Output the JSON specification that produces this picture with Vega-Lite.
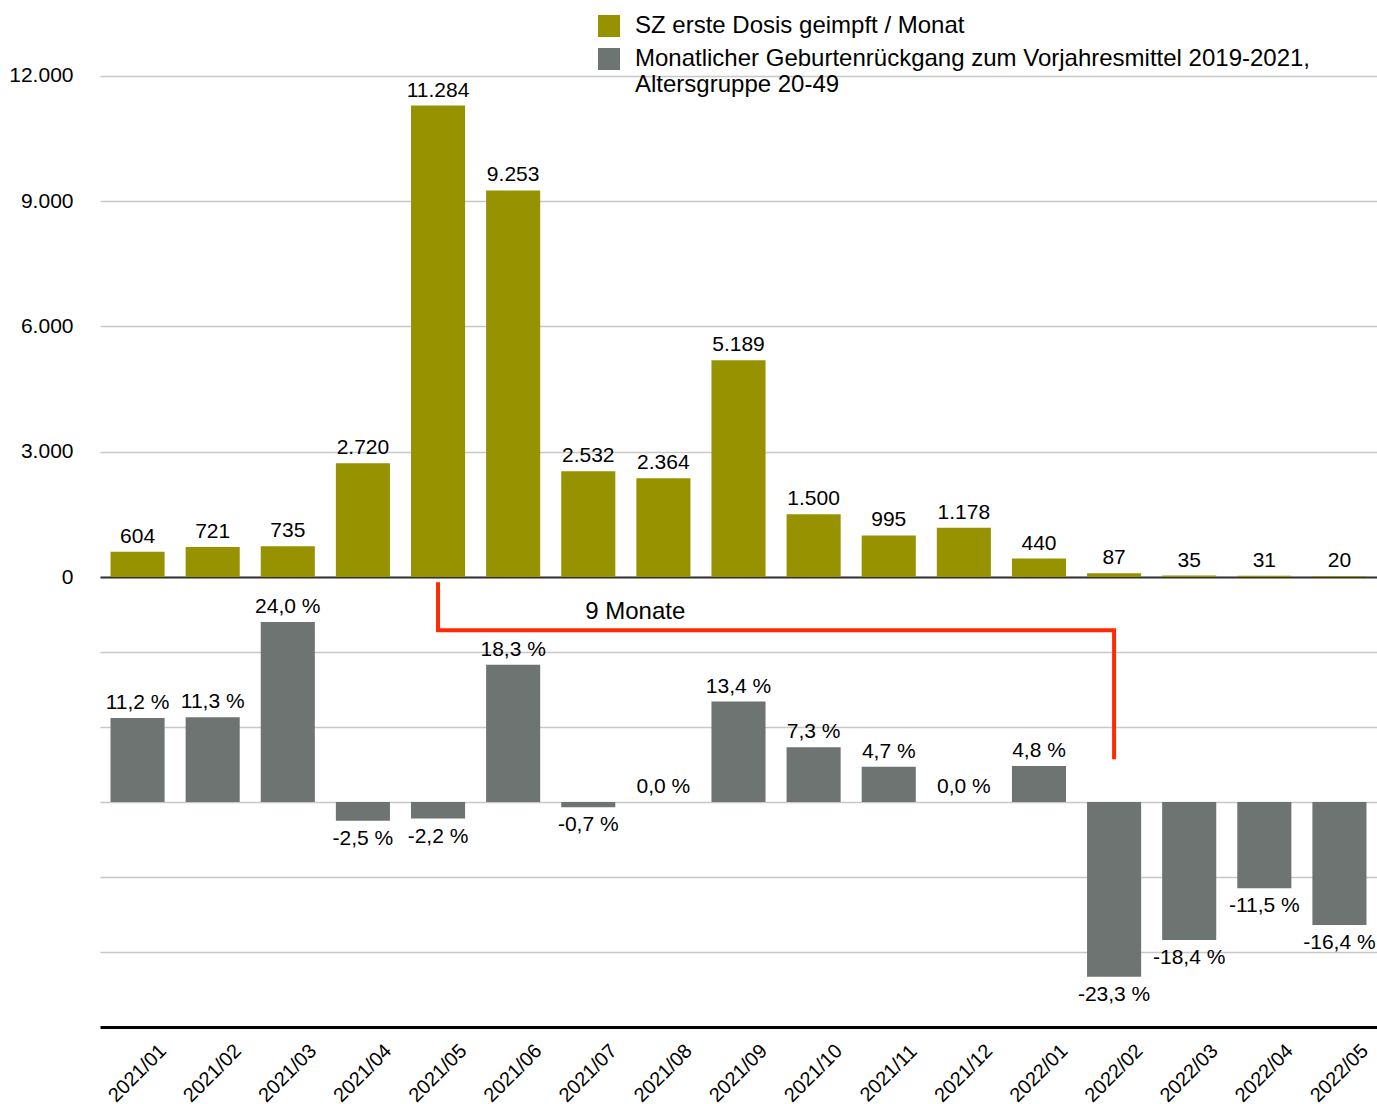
{
  "$schema": "https://vega.github.io/schema/vega-lite/v6.json",
  "padding": {"left": 0, "top": 13, "right": 0, "bottom": 0},
  "autosize": {"type": "pad"},
  "background": "white",
  "spacing": 0,
  "bounds": "flush",
  "config": {
    "locale": {"number": {"decimal": ",", "thousands": ".", "grouping": [3], "currency": ["", " €"], "percent": " %", "minus": "-"}},
    "view": {"stroke": null},
    "font": "Liberation Sans",
    "axis": {"labelFont": "Liberation Sans", "labelColor": "#000", "gridColor": "#c8c8c8", "gridWidth": 1.5},
    "legend": {"labelFont": "Liberation Sans"}
  },
  "datasets": {
    "monate": [
      {"monat": "2021/01", "dosis": 604, "rueckgang": 0.112},
      {"monat": "2021/02", "dosis": 721, "rueckgang": 0.113},
      {"monat": "2021/03", "dosis": 735, "rueckgang": 0.240},
      {"monat": "2021/04", "dosis": 2720, "rueckgang": -0.025},
      {"monat": "2021/05", "dosis": 11284, "rueckgang": -0.022},
      {"monat": "2021/06", "dosis": 9253, "rueckgang": 0.183},
      {"monat": "2021/07", "dosis": 2532, "rueckgang": -0.007},
      {"monat": "2021/08", "dosis": 2364, "rueckgang": 0.0},
      {"monat": "2021/09", "dosis": 5189, "rueckgang": 0.134},
      {"monat": "2021/10", "dosis": 1500, "rueckgang": 0.073},
      {"monat": "2021/11", "dosis": 995, "rueckgang": 0.047},
      {"monat": "2021/12", "dosis": 1178, "rueckgang": 0.0},
      {"monat": "2022/01", "dosis": 440, "rueckgang": 0.048},
      {"monat": "2022/02", "dosis": 87, "rueckgang": -0.233},
      {"monat": "2022/03", "dosis": 35, "rueckgang": -0.184},
      {"monat": "2022/04", "dosis": 31, "rueckgang": -0.115},
      {"monat": "2022/05", "dosis": 20, "rueckgang": -0.164}
    ],
    "linie": [
      {"monat": "2021/05", "wert": 0.293, "o": 1},
      {"monat": "2021/05", "wert": 0.229, "o": 2},
      {"monat": "2022/02", "wert": 0.229, "o": 3},
      {"monat": "2022/02", "wert": 0.057, "o": 4}
    ],
    "notiz": [
      {"monat": "2021/07", "wert": 0.254, "text": "9 Monate"}
    ]
  },
  "resolve": {"scale": {"color": "shared"}, "legend": {"color": "shared"}},
  "vconcat": [
    {
      "width": 1277,
      "height": 564,
      "data": {"name": "monate"},
      "encoding": {
        "x": {
          "field": "monat", "type": "nominal", "sort": null,
          "scale": {"domain": ["2021/01","2021/02","2021/03","2021/04","2021/05","2021/06","2021/07","2021/08","2021/09","2021/10","2021/11","2021/12","2022/01","2022/02","2022/03","2022/04","2022/05"], "paddingInner": 0.28, "paddingOuter": 0.14},
          "axis": {"title": null, "labels": false, "ticks": false, "grid": false, "domain": true, "domainColor": "#333", "domainWidth": 2, "minExtent": 0, "maxExtent": 0}
        }
      },
      "layer": [
        {
          "mark": {"type": "bar"},
          "encoding": {
            "y": {
              "field": "dosis", "type": "quantitative",
              "scale": {"domain": [0, 13500], "nice": false, "zero": true},
              "axis": {"title": null, "values": [0, 3000, 6000, 9000, 12000], "format": ",d", "domain": false, "ticks": false, "labelFontSize": 21, "labelPadding": 27, "minExtent": 100, "maxExtent": 100, "grid": true}
            },
            "color": {
              "datum": "SZ erste Dosis geimpft / Monat", "type": "nominal",
              "scale": {"domain": ["SZ erste Dosis geimpft / Monat", "Monatlicher Geburtenrückgang zum Vorjahresmittel 2019-2021, Altersgruppe 20-49"], "range": ["#979200", "#6e7471"]},
              "legend": {
                "title": null, "orient": "none", "legendX": 497, "legendY": 1,
                "symbolType": "square", "symbolSize": 484, "symbolStrokeWidth": 0,
                "labelFontSize": 24, "labelColor": "#000", "labelLimit": 900, "labelOffset": 14,
                "rowPadding": 9, "padding": 0,
                "labelExpr": "indexof(datum.label, 'Altersgruppe') > 0 ? ['Monatlicher Geburtenrückgang zum Vorjahresmittel 2019-2021,', 'Altersgruppe 20-49'] : datum.label"
              }
            }
          }
        },
        {
          "mark": {"type": "text", "baseline": "alphabetic", "dy": -9, "fontSize": 21, "color": "#000"},
          "encoding": {
            "y": {"field": "dosis", "type": "quantitative"},
            "text": {"field": "dosis", "type": "quantitative", "format": ",d"}
          }
        }
      ]
    },
    {
      "width": 1277,
      "height": 450,
      "encoding": {
        "x": {
          "field": "monat", "type": "nominal", "sort": null,
          "scale": {"domain": ["2021/01","2021/02","2021/03","2021/04","2021/05","2021/06","2021/07","2021/08","2021/09","2021/10","2021/11","2021/12","2022/01","2022/02","2022/03","2022/04","2022/05"], "paddingInner": 0.28, "paddingOuter": 0.14},
          "axis": {"title": null, "labelAngle": -45, "labelAlign": "center", "labelBaseline": "middle", "labelPadding": 46, "labelFontSize": 20, "ticks": false, "grid": false, "domainColor": "#000", "domainWidth": 3}
        }
      },
      "layer": [
        {
          "data": {"name": "monate"},
          "mark": {"type": "bar"},
          "encoding": {
            "y": {
              "field": "rueckgang", "type": "quantitative",
              "scale": {"domain": [-0.3, 0.3], "nice": false},
              "axis": {"title": null, "values": [-0.2, -0.1, 0, 0.1, 0.2], "labels": false, "domain": false, "ticks": false, "minExtent": 100, "maxExtent": 100, "grid": true}
            },
            "color": {"datum": "Monatlicher Geburtenrückgang zum Vorjahresmittel 2019-2021, Altersgruppe 20-49", "type": "nominal"}
          }
        },
        {
          "data": {"name": "monate"},
          "transform": [{"filter": "datum.rueckgang >= 0"}],
          "mark": {"type": "text", "baseline": "alphabetic", "dy": -9, "fontSize": 21, "color": "#000"},
          "encoding": {
            "y": {"field": "rueckgang", "type": "quantitative"},
            "text": {"field": "rueckgang", "type": "quantitative", "format": ".1%"}
          }
        },
        {
          "data": {"name": "monate"},
          "transform": [{"filter": "datum.rueckgang < 0"}],
          "mark": {"type": "text", "baseline": "top", "dy": 7, "fontSize": 21, "color": "#000"},
          "encoding": {
            "y": {"field": "rueckgang", "type": "quantitative"},
            "text": {"field": "rueckgang", "type": "quantitative", "format": ".1%"}
          }
        },
        {
          "data": {"name": "linie"},
          "mark": {"type": "line", "color": "#ff2a00", "strokeWidth": 4, "strokeJoin": "miter", "strokeCap": "butt"},
          "encoding": {
            "y": {"field": "wert", "type": "quantitative"},
            "order": {"field": "o", "type": "quantitative"}
          }
        },
        {
          "data": {"name": "notiz"},
          "mark": {"type": "text", "align": "left", "baseline": "middle", "dx": -3, "fontSize": 24, "color": "#000"},
          "encoding": {
            "y": {"field": "wert", "type": "quantitative"},
            "text": {"field": "text", "type": "nominal"}
          }
        }
      ]
    }
  ]
}
